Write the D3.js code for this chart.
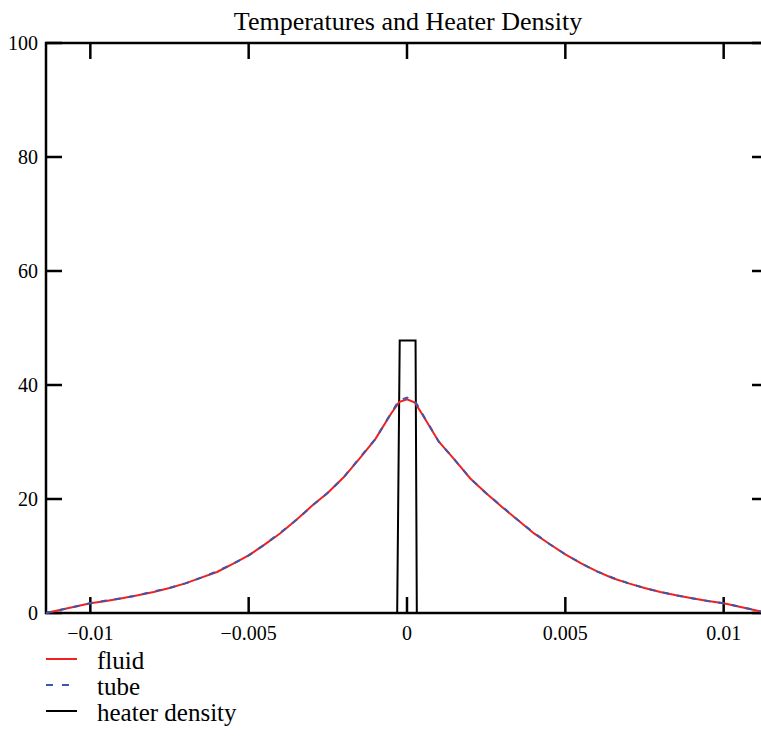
<!DOCTYPE html>
<html>
<head>
<meta charset="utf-8">
<script src="https://cdn.jsdelivr.net/npm/d3@7"></script>
<style>
    body { margin: 0; background: #fff; }
    text { font-family: "Liberation Serif", "Times New Roman", serif; fill: #000; }
</style>
</head>
<body>
<script>
// temperatures and heater density line chart with d3

//x positions of the temperature samples
var xValues = [-0.0114, -0.011, -0.0105, -0.01, -0.0095, -0.009, -0.0085, -0.008, -0.0075, -0.007,
    -0.0065, -0.006, -0.0055, -0.005, -0.0045, -0.004, -0.0035, -0.003, -0.0025, -0.002,
    -0.0015, -0.001, -0.0005, -0.00025, 0, 0.00025, 0.0005, 0.001, 0.0015, 0.002,
    0.0025, 0.003, 0.0035, 0.004, 0.0045, 0.005, 0.0055, 0.006, 0.0065, 0.007,
    0.0075, 0.008, 0.0085, 0.009, 0.0095, 0.01, 0.0105, 0.011, 0.0114];

//fluid temperature
var fluidValues = [0, 0.5, 1.1, 1.7, 2.1, 2.6, 3.1, 3.7, 4.4, 5.2,
    6.2, 7.2, 8.6, 10.1, 12.0, 14.0, 16.3, 18.8, 21.1, 23.8,
    27.1, 30.5, 35.0, 37.0, 37.5, 36.9, 34.7, 30.1, 26.9, 23.6,
    21.0, 18.6, 16.3, 14.0, 12.1, 10.3, 8.7, 7.3, 6.1, 5.2,
    4.4, 3.7, 3.1, 2.6, 2.1, 1.7, 1.1, 0.5, 0];

//tube temperature
var tubeValues = [0, 0.5, 1.1, 1.7, 2.2, 2.6, 3.1, 3.8, 4.4, 5.2,
    6.2, 7.3, 8.6, 10.1, 12.0, 14.1, 16.3, 18.8, 21.1, 23.8,
    27.2, 30.5, 35.1, 37.3, 37.8, 37.2, 34.8, 30.1, 26.9, 23.6,
    21.0, 18.7, 16.3, 14.1, 12.1, 10.3, 8.7, 7.3, 6.2, 5.2,
    4.4, 3.7, 3.1, 2.6, 2.1, 1.7, 1.1, 0.5, 0];

//heater density outline
var heaterX = [-0.00031, -0.00023, 0.00027, 0.00031];
var heaterY = [0, 47.8, 47.8, 0];

//tick labels
var xTicks = [-0.01, -0.005, 0, 0.005, 0.01];
var yTicks = [0, 20, 40, 60, 80, 100];

var legendNames = ["fluid", "tube", "heater density"];
var legendColors = ["#ee2222", "#3a56ad", "#000000"];

window.onload = drawChart();

function drawChart(){

    var width = 761,
        height = 736;

    var svg = d3.select("body")
        .append("svg")
        .attr("width", width)
        .attr("height", height);

    //plot frame, the right side runs past the window
    var left = 46, right = 768, top = 43, bottom = 613;

    var x = d3.scaleLinear()
        .domain([-0.0114, 0.0114])
        .range([left, right]);

    var y = d3.scaleLinear()
        .domain([0, 100])
        .range([bottom, top]);

    //title
    svg.append("text")
        .attr("x", 408)
        .attr("y", 30)
        .attr("text-anchor", "middle")
        .style("font-size", "26px")
        .text("Temperatures and Heater Density");

    //frame lines
    var frame = svg.append("g")
        .attr("stroke", "#000")
        .attr("stroke-width", 2.5)
        .attr("fill", "none");
    frame.append("rect")
        .attr("x", left)
        .attr("y", top)
        .attr("width", right - left)
        .attr("height", bottom - top);

    //inward ticks on all sides
    var tickLen = 16;
    xTicks.forEach(function(t){
        frame.append("line")
            .attr("x1", x(t)).attr("x2", x(t))
            .attr("y1", bottom).attr("y2", bottom - tickLen);
        frame.append("line")
            .attr("x1", x(t)).attr("x2", x(t))
            .attr("y1", top).attr("y2", top + tickLen);
    });
    yTicks.forEach(function(t){
        frame.append("line")
            .attr("x1", left).attr("x2", left + tickLen)
            .attr("y1", y(t)).attr("y2", y(t));
        frame.append("line")
            .attr("x1", right).attr("x2", right - tickLen)
            .attr("y1", y(t)).attr("y2", y(t));
    });

    //tick labels
    svg.selectAll(".xlabel")
        .data(xTicks)
        .enter()
        .append("text")
        .attr("class", "xlabel")
        .attr("x", function(d){ return x(d); })
        .attr("y", 640)
        .attr("text-anchor", "middle")
        .style("font-size", "20px")
        .text(function(d){ return d < 0 ? "\u2212" + Math.abs(d) : d; });

    svg.selectAll(".ylabel")
        .data(yTicks)
        .enter()
        .append("text")
        .attr("class", "ylabel")
        .attr("x", 38)
        .attr("y", function(d){ return y(d) + 7; })
        .attr("text-anchor", "end")
        .style("font-size", "20px")
        .text(function(d){ return d; });

    var line = d3.line()
        .x(function(d){ return x(d[0]); })
        .y(function(d){ return y(d[1]); });

    var fluid = d3.zip(xValues, fluidValues),
        tube = d3.zip(xValues, tubeValues),
        heater = d3.zip(heaterX, heaterY);

    //heater density
    svg.append("path")
        .datum(heater)
        .attr("d", line)
        .attr("fill", "none")
        .attr("stroke", legendColors[2])
        .attr("stroke-width", 2);

    //fluid temperature
    svg.append("path")
        .datum(fluid)
        .attr("d", line)
        .attr("fill", "none")
        .attr("stroke", legendColors[0])
        .attr("stroke-width", 2);

    //tube temperature, dashed on top
    svg.append("path")
        .datum(tube)
        .attr("d", line)
        .attr("fill", "none")
        .attr("stroke", legendColors[1])
        .attr("stroke-width", 2)
        .attr("stroke-dasharray", "6,8");

    //legend
    var legend = svg.selectAll(".legend")
        .data(legendNames)
        .enter()
        .append("g")
        .attr("class", "legend")
        .attr("transform", function(d, i){ return "translate(0," + (659 + i * 26) + ")"; });

    legend.append("line")
        .attr("x1", 46)
        .attr("x2", 77)
        .attr("y1", 0)
        .attr("y2", 0)
        .attr("stroke", function(d, i){ return legendColors[i]; })
        .attr("stroke-width", 2)
        .attr("stroke-dasharray", function(d, i){ return i == 1 ? "7,9" : null; });

    legend.append("text")
        .attr("x", 97)
        .attr("y", 10)
        .style("font-size", "25px")
        .text(function(d){ return d; });
};
</script>
</body>
</html>
